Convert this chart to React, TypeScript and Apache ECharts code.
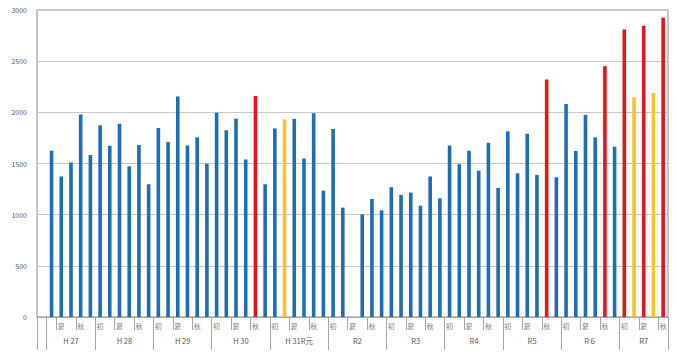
import React, { useEffect, useRef } from "react";
import * as echarts from "echarts";

// Years and how many bars each year holds, split into sub-periods
const years = ["H 27", "H 28", "H 29", "H 30", "H 31R元", "R2", "R3", "R4", "R5", "R６", "R7"];
const subCounts: number[][] = [
  [1, 2, 2],
  [2, 2, 2],
  [2, 2, 2],
  [2, 2, 2],
  [2, 2, 2],
  [2, 2, 2],
  [2, 2, 2],
  [2, 2, 2],
  [2, 2, 2],
  [2, 2, 2],
  [2, 2, 1],
];
const subLabels: string[][] = [
  ["", "夏", "秋"],
  ["初", "夏", "秋"],
  ["初", "夏", "秋"],
  ["初", "夏", "秋"],
  ["初", "夏", "秋"],
  ["初", "夏", "秋"],
  ["初", "夏", "秋"],
  ["初", "夏", "秋"],
  ["初", "夏", "秋"],
  ["初", "夏", "秋"],
  ["初", "夏", "秋"],
];

// Bar values in order (64 bars)
const values: (number | null)[] = [
  1624, 1373, 1510, 1980, 1582,
  1873, 1673, 1889, 1474, 1680, 1297,
  1846, 1709, 2154, 1676, 1755, 1497,
  1997, 1824, 1938, 1539, 2160, 1297,
  1843, 1931, 1938, 1549, 1990, 1235,
  1837, 1069, null, 1003, 1154, 1042,
  1268, 1193, 1216, 1088, 1373, 1160,
  1676, 1493, 1624, 1428, 1703, 1261,
  1814, 1405, 1791, 1389, 2320, 1366,
  2082, 1621, 1974, 1755, 2451, 1663,
  2810, 2147, 2846, 2190, 2925,
];
// 1-based bar numbers drawn in red / yellow
const redBars = [22, 52, 58, 60, 62, 64];
const yellowBars = [25, 61, 63];

const yTicks = { min: 0, max: 3000, interval: 500 };

const BLUE = "#1f6db4";
const RED = "#e3161d";
const YELLOW = "#f7c230";
const FONT = "'Noto Sans CJK JP', 'Noto Sans', sans-serif";

export default function App() {
  const ref = useRef<HTMLDivElement>(null);

  useEffect(() => {
    if (!ref.current) return;
    const chart = echarts.init(ref.current, undefined, { renderer: "svg" });

    // category 0 is an empty leading slot
    const nCats = values.length + 1;
    const nPts = nCats * 2 + 1;
    const cats = Array.from({ length: nCats }, (_, i) => String(i));
    const barData: any[] = [{ value: null }];
    values.forEach((v, i) => {
      const n = i + 1;
      const color = redBars.includes(n) ? RED : yellowBars.includes(n) ? YELLOW : BLUE;
      barData.push({ value: v, itemStyle: { color } });
    });

    const subPts: string[] = Array(nPts).fill("");
    const yearPts: string[] = Array(nPts).fill("");
    const shortTicks = new Set<number>();
    const longTicks = new Set<number>([0, nPts - 1]);
    let cat = 1;
    years.forEach((y, yi) => {
      const start = cat;
      const total = subCounts[yi].reduce((a, b) => a + b, 0);
      longTicks.add(2 * start);
      subCounts[yi].forEach((c, si) => {
        if (cat !== start) shortTicks.add(2 * cat);
        if (subLabels[yi][si]) subPts[2 * cat + 1] = subLabels[yi][si];
        cat += c;
      });
      yearPts[2 * start + total] = y;
    });

    chart.setOption({
      animation: false,
      textStyle: { fontFamily: FONT },
      grid: {
        left: 37,
        right: 9,
        top: 10,
        bottom: 44,
        show: true,
        borderColor: "#8c8c8c",
        borderWidth: 1,
      },
      xAxis: [
        {
          type: "category",
          data: cats,
          axisLine: { show: true, lineStyle: { color: "#a6a6a6" } },
          axisTick: { show: false },
          axisLabel: { show: false },
        },
        {
          type: "category",
          data: subPts,
          boundaryGap: false,
          position: "bottom",
          axisLine: { show: false },
          axisTick: {
            show: true,
            interval: (i: number) => shortTicks.has(i),
            length: 13,
            lineStyle: { color: "#a6a6a6" },
          },
          axisLabel: { interval: 0, fontSize: 7, color: "#7a7a7a", margin: 5, fontFamily: FONT },
        },
        {
          type: "category",
          data: yearPts,
          boundaryGap: false,
          position: "bottom",
          axisLine: { show: false },
          axisTick: {
            show: true,
            interval: (i: number) => longTicks.has(i),
            length: 33,
            lineStyle: { color: "#a6a6a6" },
          },
          axisLabel: { interval: 0, fontSize: 7.5, color: "#595959", margin: 20, fontFamily: FONT },
        },
      ],
      yAxis: {
        type: "value",
        min: yTicks.min,
        max: yTicks.max,
        interval: yTicks.interval,
        axisLine: { show: false },
        axisTick: { show: false },
        splitLine: { lineStyle: { color: "#c8c8c8" } },
        axisLabel: {
          fontSize: 7,
          color: "#595959",
          margin: 10,
          fontFamily: FONT,
          formatter: (v: number) => String(v),
        },
      },
      series: [
        {
          type: "bar",
          xAxisIndex: 0,
          data: barData,
          barWidth: 3.6,
        },
      ],
    });

    return () => chart.dispose();
  }, []);

  return (
    <div
      ref={ref}
      style={{ position: "fixed", left: 0, top: 0, width: 677, height: 361, background: "#fff" }}
    />
  );
}
